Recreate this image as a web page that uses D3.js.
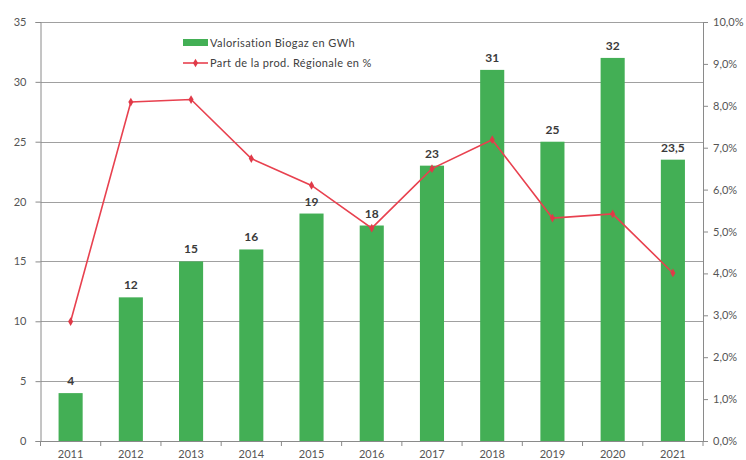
<!DOCTYPE html>
<html>
<head>
<meta charset="utf-8">
<script src="https://cdn.jsdelivr.net/npm/d3@7"></script>
<style>
  html, body { margin: 0; padding: 0; background: #ffffff; }
  svg { display: block; }
  text { font-family: Lato, "Open Sans", sans-serif; }
</style>
</head>
<body>
<svg id="chart" width="746" height="460"></svg>
<script>
// Annual biogas recovery (GWh) and its share of regional production (%)
const years = ["2011", "2012", "2013", "2014", "2015", "2016", "2017", "2018", "2019", "2020", "2021"];
const biogasGWh = [4, 12, 15, 16, 19, 18, 23, 31, 25, 32, 23.5];
const regionalShare = [2.85, 8.09, 8.15, 6.74, 6.10, 5.08, 6.50, 7.19, 5.32, 5.42, 4.01];
const leftTicks = [0, 5, 10, 15, 20, 25, 30, 35];
const rightTicks = [0, 1, 2, 3, 4, 5, 6, 7, 8, 9, 10];
const legendLabels = ["Valorisation Biogaz en GWh", "Part de la prod. Régionale  en %"];

const svg = d3.select("#chart");
const margin = { left: 40.5, right: 43, top: 22, bottom: 19 };
const W = 746, H = 460;
const x0 = margin.left, x1 = W - margin.right, y0 = H - margin.bottom, y1 = margin.top;

const x = d3.scaleBand().domain(years).range([x0, x1]).paddingInner(0.6).paddingOuter(0.3);
const yL = d3.scaleLinear().domain([0, 35]).range([y0, y1]);
const yR = d3.scaleLinear().domain([0, 10]).range([y0, y1]);

const barColor = "#43af55";
const axisColor = "#8a8a8a";
const gridColor = "#a0a0a0";
const labelColor = "#555555";
const fmtPct = v => d3.format(".1f")(v).replace(".", ",") + "%";
const fmtVal = v => String(v).replace(".", ",");

// Horizontal gridlines on the left-axis ticks
svg.append("g")
  .selectAll("line")
  .data(leftTicks.filter(d => d > 0))
  .join("line")
  .attr("x1", x0).attr("x2", x1)
  .attr("y1", d => Math.round(yL(d)) + 0.5).attr("y2", d => Math.round(yL(d)) + 0.5)
  .attr("stroke", gridColor).attr("stroke-width", 1);

// Bars
svg.append("g")
  .selectAll("rect")
  .data(years)
  .join("rect")
  .attr("x", d => x(d))
  .attr("width", x.bandwidth())
  .attr("y", (d, i) => yL(biogasGWh[i]))
  .attr("height", (d, i) => y0 - yL(biogasGWh[i]))
  .attr("fill", barColor);

// Value labels above bars
svg.append("g")
  .selectAll("text")
  .data(years)
  .join("text")
  .attr("x", d => x(d) + x.bandwidth() / 2)
  .attr("y", (d, i) => yL(biogasGWh[i]) - 8)
  .attr("text-anchor", "middle")
  .attr("font-size", 12)
  .attr("font-weight", "bold")
  .attr("fill", "#3a3a3a")
  .text((d, i) => fmtVal(biogasGWh[i]));

// Left axis
const gL = svg.append("g").attr("transform", `translate(${x0},0)`)
  .call(d3.axisLeft(yL).tickValues(leftTicks).tickSize(5).tickPadding(9));
// Right axis
const gR = svg.append("g").attr("transform", `translate(${x1},0)`)
  .call(d3.axisRight(yR).tickValues(rightTicks).tickSize(5).tickPadding(5).tickFormat(fmtPct));
// Bottom axis with ticks between categories
const gB = svg.append("g").attr("transform", `translate(0,${y0})`)
  .call(d3.axisBottom(x).tickSize(0).tickPadding(9));
gB.append("g")
  .selectAll("line")
  .data(d3.range(years.length + 1))
  .join("line")
  .attr("x1", i => x0 + i * x.step()).attr("x2", i => x0 + i * x.step())
  .attr("y1", 0).attr("y2", 5)
  .attr("stroke", axisColor);

[gL, gR, gB].forEach(g => {
  g.selectAll(".domain").attr("stroke", axisColor);
  g.selectAll(".tick line").attr("stroke", axisColor);
  g.selectAll(".tick text").attr("fill", labelColor).attr("font-size", 11)
    .attr("font-family", "Lato, 'Open Sans', sans-serif");
});
gB.select(".domain").attr("d", `M${x0},0.5H${x1}`);

// Share line with markers
const line = d3.line()
  .x((d, i) => x(years[i]) + x.bandwidth() / 2)
  .y(d => yR(d));
svg.append("path")
  .datum(regionalShare)
  .attr("d", line)
  .attr("fill", "none")
  .attr("stroke", "#e8414f")
  .attr("stroke-width", 1.6);
svg.append("g")
  .selectAll("path")
  .data(regionalShare)
  .join("path")
  .attr("transform", (d, i) => `translate(${x(years[i]) + x.bandwidth() / 2},${yR(d)})`)
  .attr("d", d3.symbol(d3.symbolDiamond, 22))
  .attr("fill", "#e03a48");

// Legend
const lg = svg.append("g").attr("font-size", 11).attr("letter-spacing", 0.4);
lg.append("rect").attr("x", 183).attr("y", 39).attr("width", 25).attr("height", 7).attr("fill", barColor);
lg.append("text").attr("x", 210).attr("y", 46.5).attr("fill", "#404040").text(legendLabels[0]);
lg.append("line").attr("x1", 183).attr("x2", 208).attr("y1", 63).attr("y2", 63)
  .attr("stroke", "#e8414f").attr("stroke-width", 1.6);
lg.append("path").attr("transform", "translate(195.5,63)").attr("d", d3.symbol(d3.symbolDiamond, 22)).attr("fill", "#e03a48");
lg.append("text").attr("x", 210).attr("y", 66.5).attr("fill", "#404040").text(legendLabels[1]);
</script>
</body>
</html>
